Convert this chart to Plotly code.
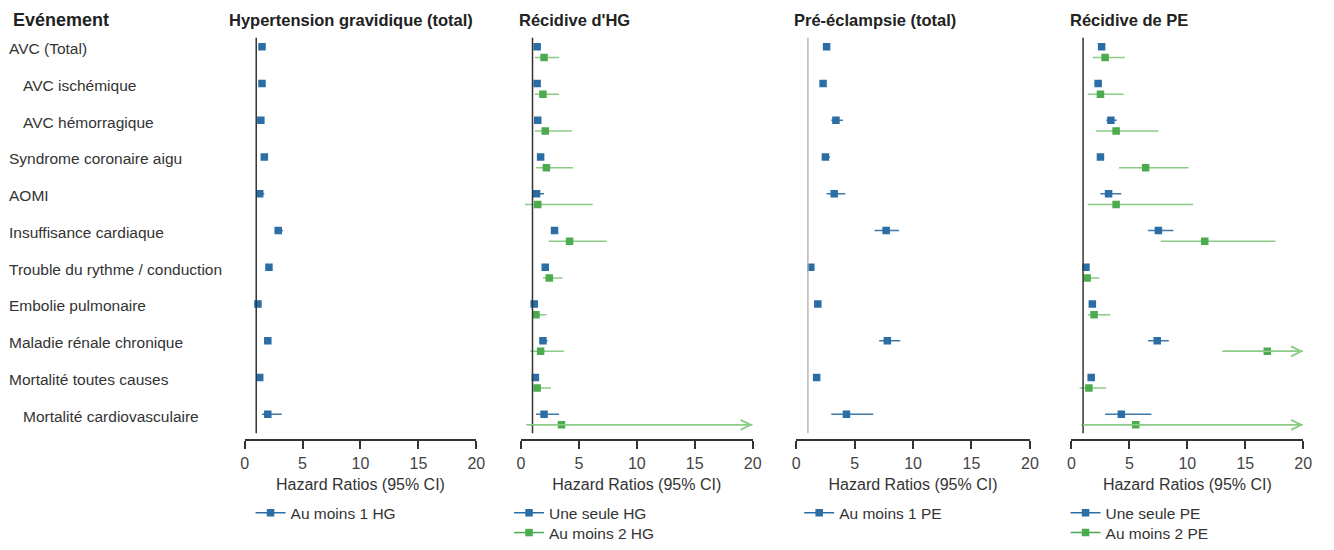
import plotly.graph_objects as go

# Outcomes (rows, top to bottom) and label indentation
events = [
    "AVC (Total)", "AVC ischémique", "AVC hémorragique", "Syndrome coronaire aigu",
    "AOMI", "Insuffisance cardiaque", "Trouble du rythme / conduction",
    "Embolie pulmonaire", "Maladie rénale chronique", "Mortalité toutes causes",
    "Mortalité cardiovasculaire",
]
indented = [0, 1, 1, 0, 0, 0, 0, 0, 0, 0, 1]

panel_titles = ["Hypertension gravidique (total)", "Récidive d'HG",
                "Pré-éclampsie (total)", "Récidive de PE"]
tick_values = [0, 5, 10, 15, 20]
x_max = 20

# Hazard ratios with 95% CI (None upper bound = beyond the axis)
hg_name = "Au moins 1 HG"
hg_hr = [1.5, 1.5, 1.4, 1.7, 1.3, 2.9, 2.1, 1.15, 2.0, 1.3, 2.0]
hg_lo = [1.4, 1.4, 1.3, 1.6, 1.05, 2.6, 2.0, 1.1, 1.9, 1.2, 1.5]
hg_hi = [1.6, 1.6, 1.6, 1.9, 1.7, 3.3, 2.3, 1.25, 2.2, 1.4, 3.2]

rhg1_name = "Une seule HG"
rhg1_hr = [1.4, 1.4, 1.45, 1.7, 1.35, 2.9, 2.1, 1.15, 1.9, 1.25, 2.0]
rhg1_lo = [1.3, 1.3, 1.3, 1.5, 1.05, 2.6, 1.9, 1.05, 1.7, 1.1, 1.3]
rhg1_hi = [1.6, 1.6, 1.7, 1.9, 2.0, 3.2, 2.3, 1.3, 2.3, 1.4, 3.3]

rhg2_name = "Au moins 2 HG"
rhg2_hr = [2.0, 1.9, 2.1, 2.2, 1.45, 4.2, 2.45, 1.3, 1.7, 1.4, 3.5]
rhg2_lo = [1.2, 1.2, 1.2, 1.3, 0.35, 2.4, 1.9, 1.0, 0.8, 1.0, 0.45]
rhg2_hi = [3.3, 3.3, 4.4, 4.5, 6.2, 7.4, 3.6, 2.2, 3.7, 2.6, None]

pe_name = "Au moins 1 PE"
pe_hr = [2.6, 2.3, 3.4, 2.5, 3.25, 7.7, 1.25, 1.85, 7.8, 1.75, 4.3]
pe_lo = [2.4, 2.1, 3.0, 2.3, 2.6, 6.7, 1.15, 1.7, 7.1, 1.6, 3.0]
pe_hi = [2.8, 2.5, 4.0, 2.9, 4.2, 8.8, 1.4, 2.0, 8.9, 1.9, 6.6]

rpe1_name = "Une seule PE"
rpe1_hr = [2.6, 2.3, 3.4, 2.5, 3.2, 7.5, 1.25, 1.8, 7.4, 1.7, 4.3]
rpe1_lo = [2.4, 2.0, 3.0, 2.2, 2.5, 6.6, 1.1, 1.6, 6.6, 1.5, 2.9]
rpe1_hi = [2.8, 2.6, 3.9, 2.8, 4.3, 8.8, 1.5, 2.0, 8.4, 1.9, 6.9]

rpe2_name = "Au moins 2 PE"
rpe2_hr = [2.9, 2.5, 3.85, 6.4, 3.85, 11.5, 1.35, 1.95, 16.9, 1.5, 5.55]
rpe2_lo = [1.85, 1.4, 2.1, 4.1, 1.4, 7.7, 1.0, 1.4, 13.0, 0.7, 0.85]
rpe2_hi = [4.6, 4.5, 7.5, 10.1, 10.5, 17.6, 2.4, 3.35, None, 3.0, None]

# ---- styling ----
W, H = 1334, 550
BLUE, BLUE_CI = "#2b6ea6", "#3f78aa"
GREEN, GREEN_CI = "#4cab4f", "#8ccb86"
TXT = "#333333"
FONT = "Liberation Sans, Arial, sans-serif"

panel_px = [(243, 477), (522, 756), (800, 1036), (1078, 1312)]
ref_colors = ["#333333", "#333333", "#b8b8b8", "#333333"]
# legend box left edge per panel, and vertical centres of the two entries
legend_x = [249, 510, 803, 1072]
legend_rows_px = [515, 535]

# pixel geometry of the rows
row0_px, row_step = 47.0, 36.87
plot_top_px, plot_bot_px = 38.0, 441.0
y_top = (plot_top_px - row0_px) / row_step
y_bot = (plot_bot_px - row0_px) / row_step
y_dom = [1 - plot_bot_px / H, 1 - plot_top_px / H]
green_offset = 0.29

panels = [
    [(hg_name, hg_hr, hg_lo, hg_hi, BLUE, BLUE_CI, 0.0)],
    [(rhg1_name, rhg1_hr, rhg1_lo, rhg1_hi, BLUE, BLUE_CI, 0.0),
     (rhg2_name, rhg2_hr, rhg2_lo, rhg2_hi, GREEN, GREEN_CI, green_offset)],
    [(pe_name, pe_hr, pe_lo, pe_hi, BLUE, BLUE_CI, 0.0)],
    [(rpe1_name, rpe1_hr, rpe1_lo, rpe1_hi, BLUE, BLUE_CI, 0.0),
     (rpe2_name, rpe2_hr, rpe2_lo, rpe2_hi, GREEN, GREEN_CI, green_offset)],
]

fig = go.Figure()
annotations, shapes = [], []
layout = {}
n_leg = 0

for p, series_list in enumerate(panels):
    k = "" if p == 0 else str(p + 1)
    xa, ya = "x" + k, "y" + k
    for s, (name, hr, lo, hi, col, ci_col, off) in enumerate(series_list):
        ys = [i + off for i in range(len(hr))]
        # confidence interval segments
        cx, cy = [], []
        for i in range(len(hr)):
            top = hi[i] if hi[i] is not None else x_max
            cx += [lo[i], top, None]
            cy += [ys[i], ys[i], None]
            if hi[i] is None:
                annotations.append(dict(
                    x=x_max, y=ys[i], xref=xa, yref=ya,
                    ax=lo[i], ay=ys[i], axref=xa, ayref=ya,
                    showarrow=True, arrowhead=5, arrowsize=1.3,
                    arrowwidth=1.5, arrowcolor=ci_col, text=""))
        fig.add_trace(go.Scatter(
            x=cx, y=cy, mode="lines", xaxis=xa, yaxis=ya,
            line=dict(color=ci_col, width=1.5), showlegend=False,
            hoverinfo="skip"))
        # one small legend per entry
        n_leg += 1
        leg = "legend" if n_leg == 1 else "legend" + str(n_leg)
        layout[leg] = dict(
            x=legend_x[p] / W, y=1 - legend_rows_px[s] / H,
            xanchor="left", yanchor="middle",
            bgcolor="rgba(0,0,0,0)", itemwidth=30,
            font=dict(size=15.5, color=TXT))
        # point estimates (gaps keep the points unconnected)
        px_, py_ = [], []
        for i in range(len(hr)):
            px_ += [hr[i], None]
            py_ += [ys[i], None]
        fig.add_trace(go.Scatter(
            x=px_, y=py_, mode="lines+markers", xaxis=xa, yaxis=ya,
            connectgaps=False, name=name, legend=leg,
            line=dict(color=col, width=1.5),
            marker=dict(symbol="square", size=7.5, color=col)))

    x0p, x1p = panel_px[p]
    layout["xaxis" + k] = dict(
        domain=[x0p / W, x1p / W], range=[0, x_max], anchor=ya,
        showline=True, linecolor=TXT, linewidth=1.5, mirror=False,
        ticks="outside", ticklen=8, tickwidth=1.5, tickcolor=TXT,
        tickvals=tick_values, tickfont=dict(size=16, color="#444444"),
        ticklabelstandoff=1,
        showgrid=False, zeroline=False,
        title=dict(text="Hazard Ratios (95% CI)", standoff=7,
                   font=dict(size=16, color=TXT)))
    layout["yaxis" + k] = dict(
        domain=y_dom, range=[y_bot, y_top], anchor=xa, visible=False,
        showgrid=False, zeroline=False)
    # reference line at HR = 1
    shapes.append(dict(type="line", xref=xa, yref=ya + " domain",
                       x0=1, x1=1, y0=0.015, y1=1,
                       line=dict(color=ref_colors[p], width=1.5)))
    # panel title
    annotations.append(dict(
        text="<b>" + panel_titles[p] + "</b>", xref="paper", yref="paper",
        x=(x0p - 18 if p == 0 else x0p - 4) / W, y=1 - 20 / H,
        xanchor="left", yanchor="middle", showarrow=False,
        font=dict(size=16.5, color="#222222")))

# row labels
for i, ev in enumerate(events):
    annotations.append(dict(
        text=ev, xref="paper", yref="y", x=(17 if indented[i] else 3) / W,
        y=i + 0.05, xanchor="left", yanchor="middle", showarrow=False,
        font=dict(size=15.5, color=TXT)))

annotations.append(dict(
    text="<b>Evénement</b>", xref="paper", yref="paper", x=7 / W, y=1 - 20 / H,
    xanchor="left", yanchor="middle", showarrow=False,
    font=dict(size=18, color="#222222")))

fig.update_layout(
    width=W, height=H, autosize=False,
    margin=dict(l=0, r=0, t=0, b=0),
    paper_bgcolor="white", plot_bgcolor="white",
    font=dict(family=FONT, color=TXT),
    annotations=annotations, shapes=shapes,
    **layout)

fig.write_html("out.html")
